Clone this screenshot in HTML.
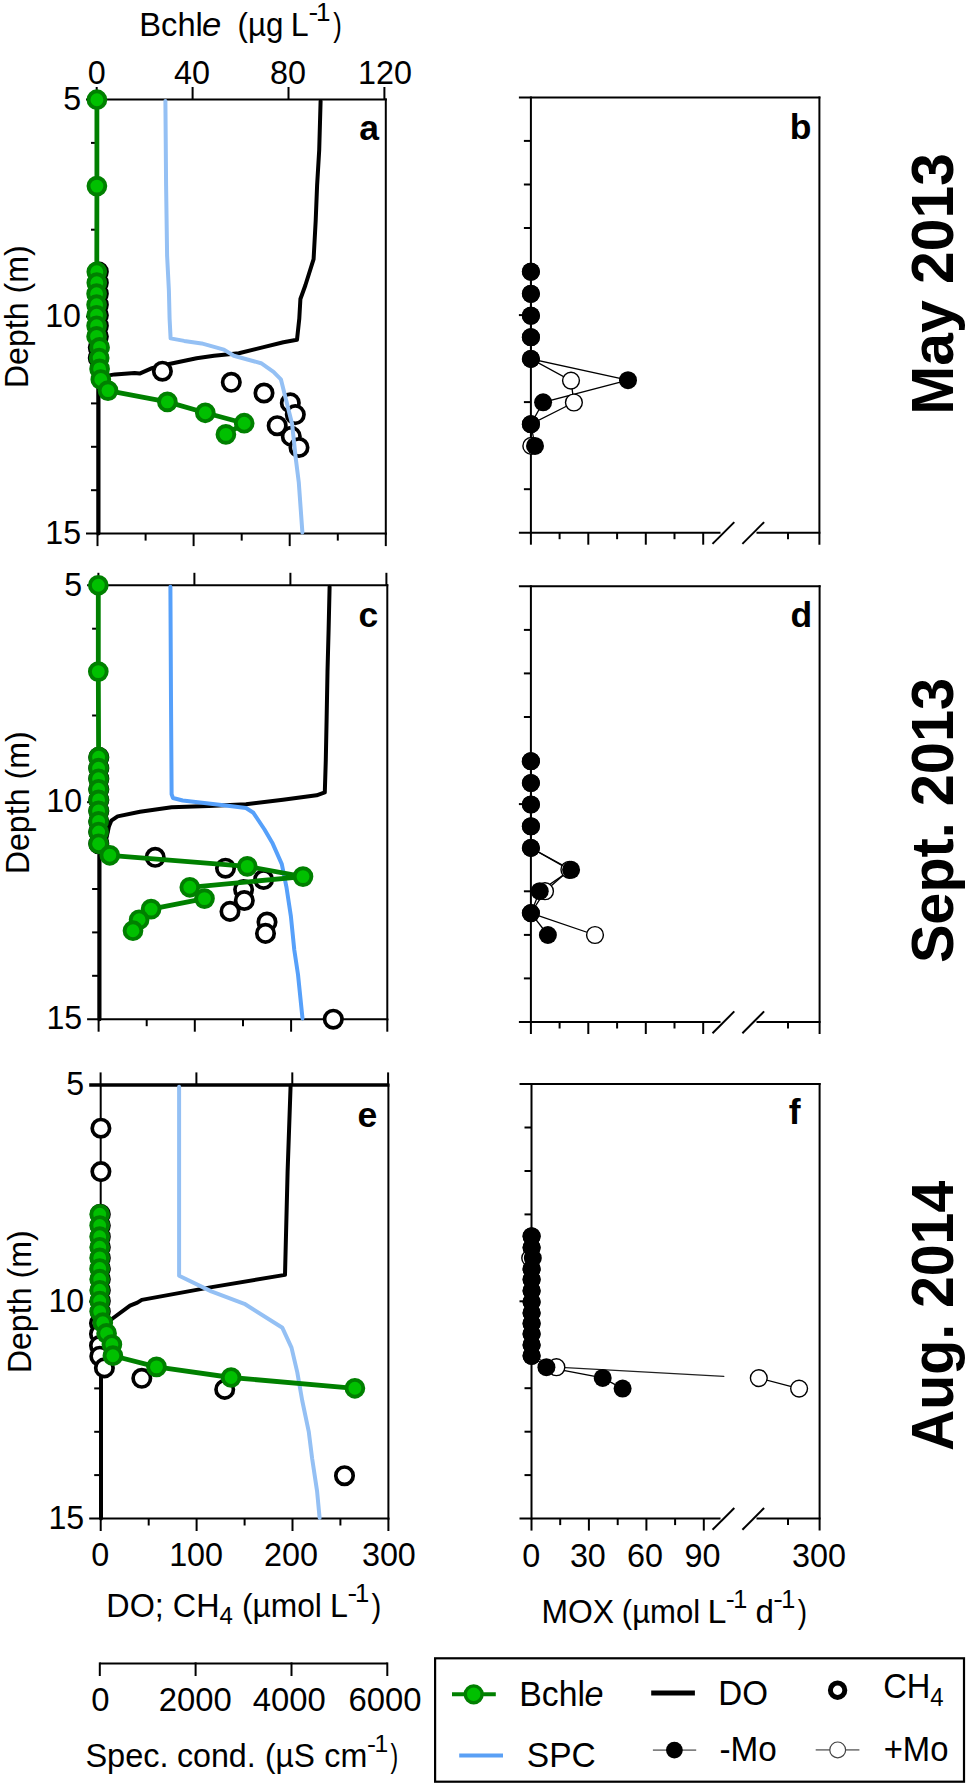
<!DOCTYPE html>
<html><head><meta charset="utf-8"><style>
html,body{margin:0;padding:0;background:#fff;}
svg{display:block;}
text{font-family:"Liberation Sans", sans-serif;fill:#000;}
</style></head><body>
<svg width="968" height="1787" viewBox="0 0 968 1787" font-family='"Liberation Sans", sans-serif'>
<rect width="968" height="1787" fill="#fff"/>
<line x1="86.0" y1="99.5" x2="386.8" y2="99.5" stroke="#000" stroke-width="2" stroke-linecap="butt"/>
<line x1="86.0" y1="533.6" x2="386.8" y2="533.6" stroke="#000" stroke-width="2" stroke-linecap="butt"/>
<line x1="97.5" y1="98.5" x2="97.5" y2="534.6" stroke="#000" stroke-width="2" stroke-linecap="butt"/>
<line x1="385.8" y1="98.5" x2="385.8" y2="534.6" stroke="#000" stroke-width="2" stroke-linecap="butt"/>
<line x1="91.0" y1="142.9" x2="97.5" y2="142.9" stroke="#000" stroke-width="2" stroke-linecap="butt"/>
<line x1="91.0" y1="186.3" x2="97.5" y2="186.3" stroke="#000" stroke-width="2" stroke-linecap="butt"/>
<line x1="91.0" y1="229.7" x2="97.5" y2="229.7" stroke="#000" stroke-width="2" stroke-linecap="butt"/>
<line x1="91.0" y1="273.1" x2="97.5" y2="273.1" stroke="#000" stroke-width="2" stroke-linecap="butt"/>
<line x1="86.0" y1="316.6" x2="97.5" y2="316.6" stroke="#000" stroke-width="2" stroke-linecap="butt"/>
<line x1="91.0" y1="360.0" x2="97.5" y2="360.0" stroke="#000" stroke-width="2" stroke-linecap="butt"/>
<line x1="91.0" y1="403.4" x2="97.5" y2="403.4" stroke="#000" stroke-width="2" stroke-linecap="butt"/>
<line x1="91.0" y1="446.8" x2="97.5" y2="446.8" stroke="#000" stroke-width="2" stroke-linecap="butt"/>
<line x1="91.0" y1="490.2" x2="97.5" y2="490.2" stroke="#000" stroke-width="2" stroke-linecap="butt"/>
<line x1="96.7" y1="87.0" x2="96.7" y2="99.5" stroke="#000" stroke-width="2" stroke-linecap="butt"/>
<line x1="192.6" y1="87.0" x2="192.6" y2="99.5" stroke="#000" stroke-width="2" stroke-linecap="butt"/>
<line x1="288.5" y1="87.0" x2="288.5" y2="99.5" stroke="#000" stroke-width="2" stroke-linecap="butt"/>
<line x1="384.4" y1="87.0" x2="384.4" y2="99.5" stroke="#000" stroke-width="2" stroke-linecap="butt"/>
<line x1="97.5" y1="533.6" x2="97.5" y2="546.1" stroke="#000" stroke-width="2" stroke-linecap="butt"/>
<line x1="145.6" y1="533.6" x2="145.6" y2="540.6" stroke="#000" stroke-width="2" stroke-linecap="butt"/>
<line x1="193.6" y1="533.6" x2="193.6" y2="546.1" stroke="#000" stroke-width="2" stroke-linecap="butt"/>
<line x1="241.7" y1="533.6" x2="241.7" y2="540.6" stroke="#000" stroke-width="2" stroke-linecap="butt"/>
<line x1="289.7" y1="533.6" x2="289.7" y2="546.1" stroke="#000" stroke-width="2" stroke-linecap="butt"/>
<line x1="337.8" y1="533.6" x2="337.8" y2="540.6" stroke="#000" stroke-width="2" stroke-linecap="butt"/>
<line x1="385.8" y1="533.6" x2="385.8" y2="546.1" stroke="#000" stroke-width="2" stroke-linecap="butt"/>
<line x1="87.1" y1="585.3" x2="388.3" y2="585.3" stroke="#000" stroke-width="2" stroke-linecap="butt"/>
<line x1="87.1" y1="1019.2" x2="388.3" y2="1019.2" stroke="#000" stroke-width="2" stroke-linecap="butt"/>
<line x1="98.6" y1="584.3" x2="98.6" y2="1020.2" stroke="#000" stroke-width="2" stroke-linecap="butt"/>
<line x1="387.3" y1="584.3" x2="387.3" y2="1020.2" stroke="#000" stroke-width="2" stroke-linecap="butt"/>
<line x1="92.1" y1="628.7" x2="98.6" y2="628.7" stroke="#000" stroke-width="2" stroke-linecap="butt"/>
<line x1="92.1" y1="672.1" x2="98.6" y2="672.1" stroke="#000" stroke-width="2" stroke-linecap="butt"/>
<line x1="92.1" y1="715.5" x2="98.6" y2="715.5" stroke="#000" stroke-width="2" stroke-linecap="butt"/>
<line x1="92.1" y1="758.9" x2="98.6" y2="758.9" stroke="#000" stroke-width="2" stroke-linecap="butt"/>
<line x1="87.1" y1="802.2" x2="98.6" y2="802.2" stroke="#000" stroke-width="2" stroke-linecap="butt"/>
<line x1="92.1" y1="845.6" x2="98.6" y2="845.6" stroke="#000" stroke-width="2" stroke-linecap="butt"/>
<line x1="92.1" y1="889.0" x2="98.6" y2="889.0" stroke="#000" stroke-width="2" stroke-linecap="butt"/>
<line x1="92.1" y1="932.4" x2="98.6" y2="932.4" stroke="#000" stroke-width="2" stroke-linecap="butt"/>
<line x1="92.1" y1="975.8" x2="98.6" y2="975.8" stroke="#000" stroke-width="2" stroke-linecap="butt"/>
<line x1="98.4" y1="572.8" x2="98.4" y2="585.3" stroke="#000" stroke-width="2" stroke-linecap="butt"/>
<line x1="194.4" y1="572.8" x2="194.4" y2="585.3" stroke="#000" stroke-width="2" stroke-linecap="butt"/>
<line x1="290.4" y1="572.8" x2="290.4" y2="585.3" stroke="#000" stroke-width="2" stroke-linecap="butt"/>
<line x1="386.4" y1="572.8" x2="386.4" y2="585.3" stroke="#000" stroke-width="2" stroke-linecap="butt"/>
<line x1="98.6" y1="1019.2" x2="98.6" y2="1031.7" stroke="#000" stroke-width="2" stroke-linecap="butt"/>
<line x1="146.7" y1="1019.2" x2="146.7" y2="1026.2" stroke="#000" stroke-width="2" stroke-linecap="butt"/>
<line x1="194.8" y1="1019.2" x2="194.8" y2="1031.7" stroke="#000" stroke-width="2" stroke-linecap="butt"/>
<line x1="243.0" y1="1019.2" x2="243.0" y2="1026.2" stroke="#000" stroke-width="2" stroke-linecap="butt"/>
<line x1="291.1" y1="1019.2" x2="291.1" y2="1031.7" stroke="#000" stroke-width="2" stroke-linecap="butt"/>
<line x1="339.2" y1="1019.2" x2="339.2" y2="1026.2" stroke="#000" stroke-width="2" stroke-linecap="butt"/>
<line x1="387.3" y1="1019.2" x2="387.3" y2="1031.7" stroke="#000" stroke-width="2" stroke-linecap="butt"/>
<line x1="89.2" y1="1084.9" x2="389.4" y2="1084.9" stroke="#000" stroke-width="3.5" stroke-linecap="butt"/>
<line x1="89.2" y1="1518.5" x2="389.4" y2="1518.5" stroke="#000" stroke-width="2" stroke-linecap="butt"/>
<line x1="100.7" y1="1083.9" x2="100.7" y2="1519.5" stroke="#000" stroke-width="2" stroke-linecap="butt"/>
<line x1="388.4" y1="1083.9" x2="388.4" y2="1519.5" stroke="#000" stroke-width="2" stroke-linecap="butt"/>
<line x1="94.2" y1="1128.3" x2="100.7" y2="1128.3" stroke="#000" stroke-width="2" stroke-linecap="butt"/>
<line x1="94.2" y1="1171.6" x2="100.7" y2="1171.6" stroke="#000" stroke-width="2" stroke-linecap="butt"/>
<line x1="94.2" y1="1215.0" x2="100.7" y2="1215.0" stroke="#000" stroke-width="2" stroke-linecap="butt"/>
<line x1="94.2" y1="1258.3" x2="100.7" y2="1258.3" stroke="#000" stroke-width="2" stroke-linecap="butt"/>
<line x1="89.2" y1="1301.7" x2="100.7" y2="1301.7" stroke="#000" stroke-width="2" stroke-linecap="butt"/>
<line x1="94.2" y1="1345.1" x2="100.7" y2="1345.1" stroke="#000" stroke-width="2" stroke-linecap="butt"/>
<line x1="94.2" y1="1388.4" x2="100.7" y2="1388.4" stroke="#000" stroke-width="2" stroke-linecap="butt"/>
<line x1="94.2" y1="1431.8" x2="100.7" y2="1431.8" stroke="#000" stroke-width="2" stroke-linecap="butt"/>
<line x1="94.2" y1="1475.1" x2="100.7" y2="1475.1" stroke="#000" stroke-width="2" stroke-linecap="butt"/>
<line x1="100.6" y1="1072.4" x2="100.6" y2="1084.9" stroke="#000" stroke-width="2" stroke-linecap="butt"/>
<line x1="196.4" y1="1072.4" x2="196.4" y2="1084.9" stroke="#000" stroke-width="2" stroke-linecap="butt"/>
<line x1="292.3" y1="1072.4" x2="292.3" y2="1084.9" stroke="#000" stroke-width="2" stroke-linecap="butt"/>
<line x1="388.1" y1="1072.4" x2="388.1" y2="1084.9" stroke="#000" stroke-width="2" stroke-linecap="butt"/>
<line x1="100.7" y1="1518.5" x2="100.7" y2="1531.0" stroke="#000" stroke-width="2" stroke-linecap="butt"/>
<line x1="148.7" y1="1518.5" x2="148.7" y2="1525.5" stroke="#000" stroke-width="2" stroke-linecap="butt"/>
<line x1="196.6" y1="1518.5" x2="196.6" y2="1531.0" stroke="#000" stroke-width="2" stroke-linecap="butt"/>
<line x1="244.6" y1="1518.5" x2="244.6" y2="1525.5" stroke="#000" stroke-width="2" stroke-linecap="butt"/>
<line x1="292.5" y1="1518.5" x2="292.5" y2="1531.0" stroke="#000" stroke-width="2" stroke-linecap="butt"/>
<line x1="340.4" y1="1518.5" x2="340.4" y2="1525.5" stroke="#000" stroke-width="2" stroke-linecap="butt"/>
<line x1="388.4" y1="1518.5" x2="388.4" y2="1531.0" stroke="#000" stroke-width="2" stroke-linecap="butt"/>
<line x1="518.9" y1="97.4" x2="820.4" y2="97.4" stroke="#000" stroke-width="2" stroke-linecap="butt"/>
<line x1="530.9" y1="96.4" x2="530.9" y2="533.7" stroke="#000" stroke-width="2" stroke-linecap="butt"/>
<line x1="819.4" y1="96.4" x2="819.4" y2="544.7" stroke="#000" stroke-width="2" stroke-linecap="butt"/>
<line x1="518.9" y1="532.7" x2="720.5" y2="532.7" stroke="#000" stroke-width="2" stroke-linecap="butt"/>
<line x1="756.5" y1="532.7" x2="820.4" y2="532.7" stroke="#000" stroke-width="2" stroke-linecap="butt"/>
<line x1="523.9" y1="140.9" x2="530.9" y2="140.9" stroke="#000" stroke-width="2" stroke-linecap="butt"/>
<line x1="523.9" y1="184.5" x2="530.9" y2="184.5" stroke="#000" stroke-width="2" stroke-linecap="butt"/>
<line x1="523.9" y1="228.0" x2="530.9" y2="228.0" stroke="#000" stroke-width="2" stroke-linecap="butt"/>
<line x1="523.9" y1="271.5" x2="530.9" y2="271.5" stroke="#000" stroke-width="2" stroke-linecap="butt"/>
<line x1="518.9" y1="315.1" x2="530.9" y2="315.1" stroke="#000" stroke-width="2" stroke-linecap="butt"/>
<line x1="523.9" y1="358.6" x2="530.9" y2="358.6" stroke="#000" stroke-width="2" stroke-linecap="butt"/>
<line x1="523.9" y1="402.1" x2="530.9" y2="402.1" stroke="#000" stroke-width="2" stroke-linecap="butt"/>
<line x1="523.9" y1="445.6" x2="530.9" y2="445.6" stroke="#000" stroke-width="2" stroke-linecap="butt"/>
<line x1="523.9" y1="489.2" x2="530.9" y2="489.2" stroke="#000" stroke-width="2" stroke-linecap="butt"/>
<line x1="530.9" y1="532.7" x2="530.9" y2="544.7" stroke="#000" stroke-width="2" stroke-linecap="butt"/>
<line x1="559.6" y1="532.7" x2="559.6" y2="539.2" stroke="#000" stroke-width="2" stroke-linecap="butt"/>
<line x1="588.3" y1="532.7" x2="588.3" y2="544.7" stroke="#000" stroke-width="2" stroke-linecap="butt"/>
<line x1="617.1" y1="532.7" x2="617.1" y2="539.2" stroke="#000" stroke-width="2" stroke-linecap="butt"/>
<line x1="645.8" y1="532.7" x2="645.8" y2="544.7" stroke="#000" stroke-width="2" stroke-linecap="butt"/>
<line x1="674.5" y1="532.7" x2="674.5" y2="539.2" stroke="#000" stroke-width="2" stroke-linecap="butt"/>
<line x1="703.2" y1="532.7" x2="703.2" y2="544.7" stroke="#000" stroke-width="2" stroke-linecap="butt"/>
<line x1="788.0" y1="532.7" x2="788.0" y2="539.2" stroke="#000" stroke-width="2" stroke-linecap="butt"/>
<line x1="712.5" y1="543.9" x2="734.3" y2="522.1" stroke="#000" stroke-width="2" stroke-linecap="butt"/>
<line x1="742.4" y1="543.9" x2="764.1" y2="522.1" stroke="#000" stroke-width="2" stroke-linecap="butt"/>
<line x1="518.9" y1="586.3" x2="820.6" y2="586.3" stroke="#000" stroke-width="2" stroke-linecap="butt"/>
<line x1="530.9" y1="585.3" x2="530.9" y2="1023.0" stroke="#000" stroke-width="2" stroke-linecap="butt"/>
<line x1="819.6" y1="585.3" x2="819.6" y2="1034.0" stroke="#000" stroke-width="2" stroke-linecap="butt"/>
<line x1="518.9" y1="1022.0" x2="720.5" y2="1022.0" stroke="#000" stroke-width="2" stroke-linecap="butt"/>
<line x1="756.5" y1="1022.0" x2="820.6" y2="1022.0" stroke="#000" stroke-width="2" stroke-linecap="butt"/>
<line x1="523.9" y1="629.9" x2="530.9" y2="629.9" stroke="#000" stroke-width="2" stroke-linecap="butt"/>
<line x1="523.9" y1="673.4" x2="530.9" y2="673.4" stroke="#000" stroke-width="2" stroke-linecap="butt"/>
<line x1="523.9" y1="717.0" x2="530.9" y2="717.0" stroke="#000" stroke-width="2" stroke-linecap="butt"/>
<line x1="523.9" y1="760.6" x2="530.9" y2="760.6" stroke="#000" stroke-width="2" stroke-linecap="butt"/>
<line x1="518.9" y1="804.1" x2="530.9" y2="804.1" stroke="#000" stroke-width="2" stroke-linecap="butt"/>
<line x1="523.9" y1="847.7" x2="530.9" y2="847.7" stroke="#000" stroke-width="2" stroke-linecap="butt"/>
<line x1="523.9" y1="891.3" x2="530.9" y2="891.3" stroke="#000" stroke-width="2" stroke-linecap="butt"/>
<line x1="523.9" y1="934.9" x2="530.9" y2="934.9" stroke="#000" stroke-width="2" stroke-linecap="butt"/>
<line x1="523.9" y1="978.4" x2="530.9" y2="978.4" stroke="#000" stroke-width="2" stroke-linecap="butt"/>
<line x1="530.9" y1="1022.0" x2="530.9" y2="1034.0" stroke="#000" stroke-width="2" stroke-linecap="butt"/>
<line x1="559.6" y1="1022.0" x2="559.6" y2="1028.5" stroke="#000" stroke-width="2" stroke-linecap="butt"/>
<line x1="588.3" y1="1022.0" x2="588.3" y2="1034.0" stroke="#000" stroke-width="2" stroke-linecap="butt"/>
<line x1="617.1" y1="1022.0" x2="617.1" y2="1028.5" stroke="#000" stroke-width="2" stroke-linecap="butt"/>
<line x1="645.8" y1="1022.0" x2="645.8" y2="1034.0" stroke="#000" stroke-width="2" stroke-linecap="butt"/>
<line x1="674.5" y1="1022.0" x2="674.5" y2="1028.5" stroke="#000" stroke-width="2" stroke-linecap="butt"/>
<line x1="703.2" y1="1022.0" x2="703.2" y2="1034.0" stroke="#000" stroke-width="2" stroke-linecap="butt"/>
<line x1="788.0" y1="1022.0" x2="788.0" y2="1028.5" stroke="#000" stroke-width="2" stroke-linecap="butt"/>
<line x1="712.5" y1="1033.2" x2="734.3" y2="1011.4" stroke="#000" stroke-width="2" stroke-linecap="butt"/>
<line x1="742.4" y1="1033.2" x2="764.1" y2="1011.4" stroke="#000" stroke-width="2" stroke-linecap="butt"/>
<line x1="519.5" y1="1084.1" x2="820.6" y2="1084.1" stroke="#000" stroke-width="2" stroke-linecap="butt"/>
<line x1="531.5" y1="1083.1" x2="531.5" y2="1519.6" stroke="#000" stroke-width="2" stroke-linecap="butt"/>
<line x1="819.6" y1="1083.1" x2="819.6" y2="1530.6" stroke="#000" stroke-width="2" stroke-linecap="butt"/>
<line x1="519.5" y1="1518.6" x2="720.5" y2="1518.6" stroke="#000" stroke-width="2" stroke-linecap="butt"/>
<line x1="756.5" y1="1518.6" x2="820.6" y2="1518.6" stroke="#000" stroke-width="2" stroke-linecap="butt"/>
<line x1="524.5" y1="1127.5" x2="531.5" y2="1127.5" stroke="#000" stroke-width="2" stroke-linecap="butt"/>
<line x1="524.5" y1="1171.0" x2="531.5" y2="1171.0" stroke="#000" stroke-width="2" stroke-linecap="butt"/>
<line x1="524.5" y1="1214.4" x2="531.5" y2="1214.4" stroke="#000" stroke-width="2" stroke-linecap="butt"/>
<line x1="524.5" y1="1257.9" x2="531.5" y2="1257.9" stroke="#000" stroke-width="2" stroke-linecap="butt"/>
<line x1="519.5" y1="1301.3" x2="531.5" y2="1301.3" stroke="#000" stroke-width="2" stroke-linecap="butt"/>
<line x1="524.5" y1="1344.8" x2="531.5" y2="1344.8" stroke="#000" stroke-width="2" stroke-linecap="butt"/>
<line x1="524.5" y1="1388.2" x2="531.5" y2="1388.2" stroke="#000" stroke-width="2" stroke-linecap="butt"/>
<line x1="524.5" y1="1431.7" x2="531.5" y2="1431.7" stroke="#000" stroke-width="2" stroke-linecap="butt"/>
<line x1="524.5" y1="1475.1" x2="531.5" y2="1475.1" stroke="#000" stroke-width="2" stroke-linecap="butt"/>
<line x1="531.5" y1="1518.6" x2="531.5" y2="1530.6" stroke="#000" stroke-width="2" stroke-linecap="butt"/>
<line x1="560.2" y1="1518.6" x2="560.2" y2="1525.1" stroke="#000" stroke-width="2" stroke-linecap="butt"/>
<line x1="588.9" y1="1518.6" x2="588.9" y2="1530.6" stroke="#000" stroke-width="2" stroke-linecap="butt"/>
<line x1="617.7" y1="1518.6" x2="617.7" y2="1525.1" stroke="#000" stroke-width="2" stroke-linecap="butt"/>
<line x1="646.4" y1="1518.6" x2="646.4" y2="1530.6" stroke="#000" stroke-width="2" stroke-linecap="butt"/>
<line x1="675.1" y1="1518.6" x2="675.1" y2="1525.1" stroke="#000" stroke-width="2" stroke-linecap="butt"/>
<line x1="703.8" y1="1518.6" x2="703.8" y2="1530.6" stroke="#000" stroke-width="2" stroke-linecap="butt"/>
<line x1="788.0" y1="1518.6" x2="788.0" y2="1525.1" stroke="#000" stroke-width="2" stroke-linecap="butt"/>
<line x1="712.5" y1="1529.8" x2="734.3" y2="1508.0" stroke="#000" stroke-width="2" stroke-linecap="butt"/>
<line x1="742.4" y1="1529.8" x2="764.1" y2="1508.0" stroke="#000" stroke-width="2" stroke-linecap="butt"/>
<polyline points="320.6,101.0 319.2,150.2 317.1,185.4 315.7,220.5 313.6,259.1 305.3,285.5 300.4,299.0 299.3,318.5 297.0,339.7 283.4,342.2 263.6,347.1 238.8,353.3 214.0,355.8 196.6,358.3 164.4,365.0 152.0,368.2 139.6,373.6 134.6,373.1 114.8,374.4 107.4,375.6 98.5,377.0 98.5,533.6" fill="none" stroke="#000" stroke-width="4" stroke-linejoin="round" stroke-linecap="round"/>
<circle cx="98.3" cy="271.8" r="8.7" fill="#fff" stroke="#000" stroke-width="3.7"/>
<circle cx="98.3" cy="282.7" r="8.7" fill="#fff" stroke="#000" stroke-width="3.7"/>
<circle cx="98.3" cy="293.7" r="8.7" fill="#fff" stroke="#000" stroke-width="3.7"/>
<circle cx="98.3" cy="304.7" r="8.7" fill="#fff" stroke="#000" stroke-width="3.7"/>
<circle cx="98.3" cy="315.3" r="8.7" fill="#fff" stroke="#000" stroke-width="3.7"/>
<circle cx="98.3" cy="325.8" r="8.7" fill="#fff" stroke="#000" stroke-width="3.7"/>
<circle cx="98.3" cy="336.4" r="8.7" fill="#fff" stroke="#000" stroke-width="3.7"/>
<circle cx="98.3" cy="347.4" r="8.7" fill="#fff" stroke="#000" stroke-width="3.7"/>
<circle cx="98.3" cy="358.0" r="8.7" fill="#fff" stroke="#000" stroke-width="3.7"/>
<circle cx="162.4" cy="371.2" r="8.7" fill="#fff" stroke="#000" stroke-width="3.7"/>
<circle cx="231.3" cy="382.3" r="8.7" fill="#fff" stroke="#000" stroke-width="3.7"/>
<circle cx="264.0" cy="393.0" r="8.7" fill="#fff" stroke="#000" stroke-width="3.7"/>
<circle cx="290.3" cy="402.9" r="8.7" fill="#fff" stroke="#000" stroke-width="3.7"/>
<circle cx="295.3" cy="414.6" r="8.7" fill="#fff" stroke="#000" stroke-width="3.7"/>
<circle cx="277.2" cy="425.7" r="8.7" fill="#fff" stroke="#000" stroke-width="3.7"/>
<circle cx="291.3" cy="436.4" r="8.7" fill="#fff" stroke="#000" stroke-width="3.7"/>
<circle cx="299.0" cy="447.5" r="8.7" fill="#fff" stroke="#000" stroke-width="3.7"/>
<polyline points="165.4,101.0 166.1,185.4 167.1,255.6 168.9,290.7 169.6,318.8 170.6,338.4 184.2,340.9 201.6,343.4 223.9,349.6 233.8,355.8 261.1,363.2 273.5,371.9 280.9,379.3 285.9,399.2 292.1,424.0 295.8,458.7 298.8,482.6 302.4,532.5" fill="none" stroke="#94c0f4" stroke-width="4" stroke-linejoin="round" stroke-linecap="round"/>
<polyline points="96.9,99.7 96.9,186.1 96.8,271.8 96.8,282.7 96.6,293.7 96.6,304.7 96.6,315.3 96.6,325.8 96.6,336.4 99.6,347.4 99.2,358.0 99.6,368.9 100.8,379.5 108.0,390.6 167.4,401.9 205.3,412.8 244.2,423.2 225.9,434.4" fill="none" stroke="#008000" stroke-width="4.8" stroke-linejoin="round" stroke-linecap="round"/>
<circle cx="96.9" cy="99.7" r="8.4" fill="#00c000" stroke="#008000" stroke-width="3.9"/>
<circle cx="96.9" cy="186.1" r="8.4" fill="#00c000" stroke="#008000" stroke-width="3.9"/>
<circle cx="96.8" cy="271.8" r="8.4" fill="#00c000" stroke="#008000" stroke-width="3.9"/>
<circle cx="96.8" cy="282.7" r="8.4" fill="#00c000" stroke="#008000" stroke-width="3.9"/>
<circle cx="96.6" cy="293.7" r="8.4" fill="#00c000" stroke="#008000" stroke-width="3.9"/>
<circle cx="96.6" cy="304.7" r="8.4" fill="#00c000" stroke="#008000" stroke-width="3.9"/>
<circle cx="96.6" cy="315.3" r="8.4" fill="#00c000" stroke="#008000" stroke-width="3.9"/>
<circle cx="96.6" cy="325.8" r="8.4" fill="#00c000" stroke="#008000" stroke-width="3.9"/>
<circle cx="96.6" cy="336.4" r="8.4" fill="#00c000" stroke="#008000" stroke-width="3.9"/>
<circle cx="99.6" cy="347.4" r="8.4" fill="#00c000" stroke="#008000" stroke-width="3.9"/>
<circle cx="99.2" cy="358.0" r="8.4" fill="#00c000" stroke="#008000" stroke-width="3.9"/>
<circle cx="99.6" cy="368.9" r="8.4" fill="#00c000" stroke="#008000" stroke-width="3.9"/>
<circle cx="100.8" cy="379.5" r="8.4" fill="#00c000" stroke="#008000" stroke-width="3.9"/>
<circle cx="108.0" cy="390.6" r="8.4" fill="#00c000" stroke="#008000" stroke-width="3.9"/>
<circle cx="167.4" cy="401.9" r="8.4" fill="#00c000" stroke="#008000" stroke-width="3.9"/>
<circle cx="205.3" cy="412.8" r="8.4" fill="#00c000" stroke="#008000" stroke-width="3.9"/>
<circle cx="244.2" cy="423.2" r="8.4" fill="#00c000" stroke="#008000" stroke-width="3.9"/>
<circle cx="225.9" cy="434.4" r="8.4" fill="#00c000" stroke="#008000" stroke-width="3.9"/>
<polyline points="329.6,586.8 328.6,630.0 327.5,671.6 326.6,720.0 325.8,760.0 324.8,792.4 316.6,795.3 283.0,799.8 246.0,804.2 208.8,806.0 171.6,807.2 140.0,811.7 117.6,816.4 111.3,820.7 109.0,826.1 106.0,840.0 99.5,855.0 99.5,1019.2" fill="none" stroke="#000" stroke-width="4" stroke-linejoin="round" stroke-linecap="round"/>
<circle cx="98.8" cy="757.2" r="8.7" fill="#fff" stroke="#000" stroke-width="3.7"/>
<circle cx="98.8" cy="768.2" r="8.7" fill="#fff" stroke="#000" stroke-width="3.7"/>
<circle cx="98.8" cy="778.8" r="8.7" fill="#fff" stroke="#000" stroke-width="3.7"/>
<circle cx="98.8" cy="789.3" r="8.7" fill="#fff" stroke="#000" stroke-width="3.7"/>
<circle cx="98.8" cy="799.9" r="8.7" fill="#fff" stroke="#000" stroke-width="3.7"/>
<circle cx="98.8" cy="810.9" r="8.7" fill="#fff" stroke="#000" stroke-width="3.7"/>
<circle cx="98.8" cy="821.4" r="8.7" fill="#fff" stroke="#000" stroke-width="3.7"/>
<circle cx="98.8" cy="832.0" r="8.7" fill="#fff" stroke="#000" stroke-width="3.7"/>
<circle cx="98.8" cy="843.8" r="8.7" fill="#fff" stroke="#000" stroke-width="3.7"/>
<circle cx="155.2" cy="857.3" r="8.7" fill="#fff" stroke="#000" stroke-width="3.7"/>
<circle cx="225.5" cy="868.2" r="8.7" fill="#fff" stroke="#000" stroke-width="3.7"/>
<circle cx="263.6" cy="879.5" r="8.7" fill="#fff" stroke="#000" stroke-width="3.7"/>
<circle cx="243.6" cy="889.5" r="8.7" fill="#fff" stroke="#000" stroke-width="3.7"/>
<circle cx="244.3" cy="900.5" r="8.7" fill="#fff" stroke="#000" stroke-width="3.7"/>
<circle cx="230.0" cy="911.4" r="8.7" fill="#fff" stroke="#000" stroke-width="3.7"/>
<circle cx="267.0" cy="922.0" r="8.7" fill="#fff" stroke="#000" stroke-width="3.7"/>
<circle cx="265.5" cy="933.4" r="8.7" fill="#fff" stroke="#000" stroke-width="3.7"/>
<circle cx="333.3" cy="1019.2" r="8.7" fill="#fff" stroke="#000" stroke-width="3.7"/>
<polyline points="170.4,586.8 171.0,700.0 171.6,794.3 173.0,798.0 182.7,800.5 223.6,805.3 246.0,808.0 253.4,812.8 264.5,829.5 272.7,843.6 281.8,864.1 286.4,886.8 290.9,916.4 294.3,950.0 298.0,974.5 302.5,1018.4" fill="none" stroke="#56a0fa" stroke-width="4" stroke-linejoin="round" stroke-linecap="round"/>
<polyline points="98.3,585.3 98.3,671.6 98.6,757.2 98.6,768.2 98.6,778.8 98.6,789.3 98.6,799.9 98.6,810.9 98.6,821.4 98.6,832.0 98.6,843.8 109.8,855.3 247.3,866.4 303.0,876.6 189.8,887.3 204.5,898.6 151.1,909.1 139.1,919.8 133.0,930.7" fill="none" stroke="#008000" stroke-width="4.8" stroke-linejoin="round" stroke-linecap="round"/>
<circle cx="98.3" cy="585.3" r="8.4" fill="#00c000" stroke="#008000" stroke-width="3.9"/>
<circle cx="98.3" cy="671.6" r="8.4" fill="#00c000" stroke="#008000" stroke-width="3.9"/>
<circle cx="98.6" cy="757.2" r="8.4" fill="#00c000" stroke="#008000" stroke-width="3.9"/>
<circle cx="98.6" cy="768.2" r="8.4" fill="#00c000" stroke="#008000" stroke-width="3.9"/>
<circle cx="98.6" cy="778.8" r="8.4" fill="#00c000" stroke="#008000" stroke-width="3.9"/>
<circle cx="98.6" cy="789.3" r="8.4" fill="#00c000" stroke="#008000" stroke-width="3.9"/>
<circle cx="98.6" cy="799.9" r="8.4" fill="#00c000" stroke="#008000" stroke-width="3.9"/>
<circle cx="98.6" cy="810.9" r="8.4" fill="#00c000" stroke="#008000" stroke-width="3.9"/>
<circle cx="98.6" cy="821.4" r="8.4" fill="#00c000" stroke="#008000" stroke-width="3.9"/>
<circle cx="98.6" cy="832.0" r="8.4" fill="#00c000" stroke="#008000" stroke-width="3.9"/>
<circle cx="98.6" cy="843.8" r="8.4" fill="#00c000" stroke="#008000" stroke-width="3.9"/>
<circle cx="109.8" cy="855.3" r="8.4" fill="#00c000" stroke="#008000" stroke-width="3.9"/>
<circle cx="247.3" cy="866.4" r="8.4" fill="#00c000" stroke="#008000" stroke-width="3.9"/>
<circle cx="303.0" cy="876.6" r="8.4" fill="#00c000" stroke="#008000" stroke-width="3.9"/>
<circle cx="189.8" cy="887.3" r="8.4" fill="#00c000" stroke="#008000" stroke-width="3.9"/>
<circle cx="204.5" cy="898.6" r="8.4" fill="#00c000" stroke="#008000" stroke-width="3.9"/>
<circle cx="151.1" cy="909.1" r="8.4" fill="#00c000" stroke="#008000" stroke-width="3.9"/>
<circle cx="139.1" cy="919.8" r="8.4" fill="#00c000" stroke="#008000" stroke-width="3.9"/>
<circle cx="133.0" cy="930.7" r="8.4" fill="#00c000" stroke="#008000" stroke-width="3.9"/>
<polyline points="290.6,1085.5 287.6,1171.6 285.0,1274.9 208.8,1287.6 141.8,1299.9 137.4,1302.6 130.0,1305.7 111.9,1319.0 101.0,1330.0 101.0,1518.5" fill="none" stroke="#000" stroke-width="4" stroke-linejoin="round" stroke-linecap="round"/>
<circle cx="100.9" cy="1128.2" r="8.7" fill="#fff" stroke="#000" stroke-width="3.7"/>
<circle cx="100.9" cy="1171.6" r="8.7" fill="#fff" stroke="#000" stroke-width="3.7"/>
<circle cx="100.3" cy="1214.3" r="8.7" fill="#fff" stroke="#000" stroke-width="3.7"/>
<circle cx="100.3" cy="1225.5" r="8.7" fill="#fff" stroke="#000" stroke-width="3.7"/>
<circle cx="100.3" cy="1236.7" r="8.7" fill="#fff" stroke="#000" stroke-width="3.7"/>
<circle cx="100.3" cy="1247.3" r="8.7" fill="#fff" stroke="#000" stroke-width="3.7"/>
<circle cx="100.3" cy="1257.9" r="8.7" fill="#fff" stroke="#000" stroke-width="3.7"/>
<circle cx="100.3" cy="1268.5" r="8.7" fill="#fff" stroke="#000" stroke-width="3.7"/>
<circle cx="100.3" cy="1279.2" r="8.7" fill="#fff" stroke="#000" stroke-width="3.7"/>
<circle cx="100.3" cy="1290.3" r="8.7" fill="#fff" stroke="#000" stroke-width="3.7"/>
<circle cx="100.3" cy="1301.0" r="8.7" fill="#fff" stroke="#000" stroke-width="3.7"/>
<circle cx="100.3" cy="1311.6" r="8.7" fill="#fff" stroke="#000" stroke-width="3.7"/>
<circle cx="99.5" cy="1323.3" r="8.7" fill="#fff" stroke="#000" stroke-width="3.7"/>
<circle cx="99.5" cy="1334.0" r="8.7" fill="#fff" stroke="#000" stroke-width="3.7"/>
<circle cx="99.5" cy="1345.6" r="8.7" fill="#fff" stroke="#000" stroke-width="3.7"/>
<circle cx="99.8" cy="1356.2" r="8.7" fill="#fff" stroke="#000" stroke-width="3.7"/>
<circle cx="104.4" cy="1367.9" r="8.7" fill="#fff" stroke="#000" stroke-width="3.7"/>
<circle cx="141.8" cy="1378.3" r="8.7" fill="#fff" stroke="#000" stroke-width="3.7"/>
<circle cx="224.7" cy="1389.4" r="8.7" fill="#fff" stroke="#000" stroke-width="3.7"/>
<circle cx="344.5" cy="1475.7" r="8.7" fill="#fff" stroke="#000" stroke-width="3.7"/>
<polyline points="179.1,1086.8 179.1,1275.7 211.3,1291.4 244.4,1303.8 282.4,1327.8 291.5,1347.6 297.3,1372.4 302.2,1400.5 308.8,1431.9 312.1,1458.3 317.1,1491.4 319.6,1517.9" fill="none" stroke="#94c0f4" stroke-width="4" stroke-linejoin="round" stroke-linecap="round"/>
<polyline points="99.7,1214.3 99.7,1225.5 99.7,1236.7 99.7,1247.3 99.7,1257.9 99.7,1268.5 99.7,1279.2 99.7,1290.3 99.7,1301.0 99.7,1311.6 102.8,1322.7 106.6,1333.4 111.9,1344.5 112.9,1355.7 156.5,1366.9 231.1,1377.5 354.9,1388.3" fill="none" stroke="#008000" stroke-width="4.8" stroke-linejoin="round" stroke-linecap="round"/>
<circle cx="99.7" cy="1214.3" r="8.4" fill="#00c000" stroke="#008000" stroke-width="3.9"/>
<circle cx="99.7" cy="1225.5" r="8.4" fill="#00c000" stroke="#008000" stroke-width="3.9"/>
<circle cx="99.7" cy="1236.7" r="8.4" fill="#00c000" stroke="#008000" stroke-width="3.9"/>
<circle cx="99.7" cy="1247.3" r="8.4" fill="#00c000" stroke="#008000" stroke-width="3.9"/>
<circle cx="99.7" cy="1257.9" r="8.4" fill="#00c000" stroke="#008000" stroke-width="3.9"/>
<circle cx="99.7" cy="1268.5" r="8.4" fill="#00c000" stroke="#008000" stroke-width="3.9"/>
<circle cx="99.7" cy="1279.2" r="8.4" fill="#00c000" stroke="#008000" stroke-width="3.9"/>
<circle cx="99.7" cy="1290.3" r="8.4" fill="#00c000" stroke="#008000" stroke-width="3.9"/>
<circle cx="99.7" cy="1301.0" r="8.4" fill="#00c000" stroke="#008000" stroke-width="3.9"/>
<circle cx="99.7" cy="1311.6" r="8.4" fill="#00c000" stroke="#008000" stroke-width="3.9"/>
<circle cx="102.8" cy="1322.7" r="8.4" fill="#00c000" stroke="#008000" stroke-width="3.9"/>
<circle cx="106.6" cy="1333.4" r="8.4" fill="#00c000" stroke="#008000" stroke-width="3.9"/>
<circle cx="111.9" cy="1344.5" r="8.4" fill="#00c000" stroke="#008000" stroke-width="3.9"/>
<circle cx="112.9" cy="1355.7" r="8.4" fill="#00c000" stroke="#008000" stroke-width="3.9"/>
<circle cx="156.5" cy="1366.9" r="8.4" fill="#00c000" stroke="#008000" stroke-width="3.9"/>
<circle cx="231.1" cy="1377.5" r="8.4" fill="#00c000" stroke="#008000" stroke-width="3.9"/>
<circle cx="354.9" cy="1388.3" r="8.4" fill="#00c000" stroke="#008000" stroke-width="3.9"/>
<polyline points="530.9,271.7 530.9,293.8 530.9,315.7 530.9,337.2 530.9,358.9 571.0,380.6 573.9,402.5 530.9,424.2 531.3,445.9" fill="none" stroke="#000" stroke-width="1.3" stroke-linejoin="miter" stroke-linecap="round"/>
<polyline points="530.9,271.7 530.9,293.8 530.9,315.7 530.9,337.2 530.9,358.9 628.0,380.2 543.1,402.3 530.9,424.2 535.0,445.9" fill="none" stroke="#000" stroke-width="1.3" stroke-linejoin="miter" stroke-linecap="round"/>
<circle cx="530.9" cy="271.7" r="8.4" fill="#fff" stroke="#000" stroke-width="1.4"/>
<circle cx="530.9" cy="293.8" r="8.4" fill="#fff" stroke="#000" stroke-width="1.4"/>
<circle cx="530.9" cy="315.7" r="8.4" fill="#fff" stroke="#000" stroke-width="1.4"/>
<circle cx="530.9" cy="337.2" r="8.4" fill="#fff" stroke="#000" stroke-width="1.4"/>
<circle cx="530.9" cy="358.9" r="8.4" fill="#fff" stroke="#000" stroke-width="1.4"/>
<circle cx="571.0" cy="380.6" r="8.4" fill="#fff" stroke="#000" stroke-width="1.4"/>
<circle cx="573.9" cy="402.5" r="8.4" fill="#fff" stroke="#000" stroke-width="1.4"/>
<circle cx="530.9" cy="424.2" r="8.4" fill="#fff" stroke="#000" stroke-width="1.4"/>
<circle cx="531.3" cy="445.9" r="8.4" fill="#fff" stroke="#000" stroke-width="1.4"/>
<circle cx="530.9" cy="271.7" r="9" fill="#000" stroke="none" stroke-width="0"/>
<circle cx="530.9" cy="293.8" r="9" fill="#000" stroke="none" stroke-width="0"/>
<circle cx="530.9" cy="315.7" r="9" fill="#000" stroke="none" stroke-width="0"/>
<circle cx="530.9" cy="337.2" r="9" fill="#000" stroke="none" stroke-width="0"/>
<circle cx="530.9" cy="358.9" r="9" fill="#000" stroke="none" stroke-width="0"/>
<circle cx="628.0" cy="380.2" r="9" fill="#000" stroke="none" stroke-width="0"/>
<circle cx="543.1" cy="402.3" r="9" fill="#000" stroke="none" stroke-width="0"/>
<circle cx="530.9" cy="424.2" r="9" fill="#000" stroke="none" stroke-width="0"/>
<circle cx="535.0" cy="445.9" r="9" fill="#000" stroke="none" stroke-width="0"/>
<polyline points="530.9,761.2 530.9,783.0 530.9,804.5 530.9,826.3 530.9,847.9 569.4,869.8 545.0,891.2 530.9,913.1 595.0,935.0" fill="none" stroke="#000" stroke-width="1.3" stroke-linejoin="miter" stroke-linecap="round"/>
<polyline points="530.9,761.2 530.9,783.0 530.9,804.5 530.9,826.3 530.9,847.9 571.1,869.8 539.7,891.2 530.9,913.1 547.9,935.0" fill="none" stroke="#000" stroke-width="1.3" stroke-linejoin="miter" stroke-linecap="round"/>
<circle cx="530.9" cy="761.2" r="8.4" fill="#fff" stroke="#000" stroke-width="1.4"/>
<circle cx="530.9" cy="783.0" r="8.4" fill="#fff" stroke="#000" stroke-width="1.4"/>
<circle cx="530.9" cy="804.5" r="8.4" fill="#fff" stroke="#000" stroke-width="1.4"/>
<circle cx="530.9" cy="826.3" r="8.4" fill="#fff" stroke="#000" stroke-width="1.4"/>
<circle cx="530.9" cy="847.9" r="8.4" fill="#fff" stroke="#000" stroke-width="1.4"/>
<circle cx="569.4" cy="869.8" r="8.4" fill="#fff" stroke="#000" stroke-width="1.4"/>
<circle cx="545.0" cy="891.2" r="8.4" fill="#fff" stroke="#000" stroke-width="1.4"/>
<circle cx="530.9" cy="913.1" r="8.4" fill="#fff" stroke="#000" stroke-width="1.4"/>
<circle cx="595.0" cy="935.0" r="8.4" fill="#fff" stroke="#000" stroke-width="1.4"/>
<circle cx="530.9" cy="761.2" r="9" fill="#000" stroke="none" stroke-width="0"/>
<circle cx="530.9" cy="783.0" r="9" fill="#000" stroke="none" stroke-width="0"/>
<circle cx="530.9" cy="804.5" r="9" fill="#000" stroke="none" stroke-width="0"/>
<circle cx="530.9" cy="826.3" r="9" fill="#000" stroke="none" stroke-width="0"/>
<circle cx="530.9" cy="847.9" r="9" fill="#000" stroke="none" stroke-width="0"/>
<circle cx="571.1" cy="869.8" r="9" fill="#000" stroke="none" stroke-width="0"/>
<circle cx="539.7" cy="891.2" r="9" fill="#000" stroke="none" stroke-width="0"/>
<circle cx="530.9" cy="913.1" r="9" fill="#000" stroke="none" stroke-width="0"/>
<circle cx="547.9" cy="935.0" r="9" fill="#000" stroke="none" stroke-width="0"/>
<polyline points="531.6,1355.8 556.4,1367.2 723.9,1376.3" fill="none" stroke="#222" stroke-width="1.2" stroke-linejoin="miter" stroke-linecap="round"/>
<polyline points="758.8,1378.1 799.1,1388.6" fill="none" stroke="#000" stroke-width="1.3" stroke-linejoin="miter" stroke-linecap="round"/>
<polyline points="531.6,1236.3 531.6,1247.6 531.6,1258.1 531.6,1269.0 531.6,1279.5 531.6,1290.8 531.6,1302.0 531.6,1312.9 531.6,1323.5 531.6,1334.0 531.6,1344.9 531.6,1355.8 546.4,1367.2 602.7,1377.9 622.6,1388.6" fill="none" stroke="#000" stroke-width="1.3" stroke-linejoin="miter" stroke-linecap="round"/>
<circle cx="531.6" cy="1236.3" r="8.4" fill="#fff" stroke="#000" stroke-width="1.4"/>
<circle cx="531.6" cy="1247.6" r="8.4" fill="#fff" stroke="#000" stroke-width="1.4"/>
<circle cx="530.2" cy="1258.1" r="8.4" fill="#fff" stroke="#000" stroke-width="1.4"/>
<circle cx="531.6" cy="1269.0" r="8.4" fill="#fff" stroke="#000" stroke-width="1.4"/>
<circle cx="531.6" cy="1279.5" r="8.4" fill="#fff" stroke="#000" stroke-width="1.4"/>
<circle cx="531.6" cy="1290.8" r="8.4" fill="#fff" stroke="#000" stroke-width="1.4"/>
<circle cx="531.6" cy="1302.0" r="8.4" fill="#fff" stroke="#000" stroke-width="1.4"/>
<circle cx="531.6" cy="1312.9" r="8.4" fill="#fff" stroke="#000" stroke-width="1.4"/>
<circle cx="531.6" cy="1323.5" r="8.4" fill="#fff" stroke="#000" stroke-width="1.4"/>
<circle cx="531.6" cy="1334.0" r="8.4" fill="#fff" stroke="#000" stroke-width="1.4"/>
<circle cx="531.6" cy="1344.9" r="8.4" fill="#fff" stroke="#000" stroke-width="1.4"/>
<circle cx="531.6" cy="1355.8" r="8.4" fill="#fff" stroke="#000" stroke-width="1.4"/>
<circle cx="556.4" cy="1367.2" r="8.4" fill="#fff" stroke="#000" stroke-width="1.4"/>
<circle cx="758.8" cy="1378.1" r="8.4" fill="#fff" stroke="#000" stroke-width="1.4"/>
<circle cx="799.1" cy="1388.6" r="8.4" fill="#fff" stroke="#000" stroke-width="1.4"/>
<circle cx="531.6" cy="1236.3" r="9" fill="#000" stroke="none" stroke-width="0"/>
<circle cx="531.6" cy="1247.6" r="9" fill="#000" stroke="none" stroke-width="0"/>
<circle cx="532.8" cy="1258.1" r="9" fill="#000" stroke="none" stroke-width="0"/>
<circle cx="531.6" cy="1269.0" r="9" fill="#000" stroke="none" stroke-width="0"/>
<circle cx="531.6" cy="1279.5" r="9" fill="#000" stroke="none" stroke-width="0"/>
<circle cx="531.6" cy="1290.8" r="9" fill="#000" stroke="none" stroke-width="0"/>
<circle cx="531.6" cy="1302.0" r="9" fill="#000" stroke="none" stroke-width="0"/>
<circle cx="531.6" cy="1312.9" r="9" fill="#000" stroke="none" stroke-width="0"/>
<circle cx="531.6" cy="1323.5" r="9" fill="#000" stroke="none" stroke-width="0"/>
<circle cx="531.6" cy="1334.0" r="9" fill="#000" stroke="none" stroke-width="0"/>
<circle cx="531.6" cy="1344.9" r="9" fill="#000" stroke="none" stroke-width="0"/>
<circle cx="531.6" cy="1355.8" r="9" fill="#000" stroke="none" stroke-width="0"/>
<circle cx="546.4" cy="1367.2" r="9" fill="#000" stroke="none" stroke-width="0"/>
<circle cx="602.7" cy="1377.9" r="9" fill="#000" stroke="none" stroke-width="0"/>
<circle cx="622.6" cy="1388.6" r="9" fill="#000" stroke="none" stroke-width="0"/>
<rect x="435.1" y="1658.3" width="528.9" height="123.4" fill="none" stroke="#000" stroke-width="2.2"/>
<line x1="452.0" y1="1694.3" x2="495.8" y2="1694.3" stroke="#008000" stroke-width="4.1" stroke-linecap="butt"/>
<circle cx="473.7" cy="1694.3" r="8.4" fill="#00c000" stroke="#008000" stroke-width="3.4"/>
<line x1="459.2" y1="1755.5" x2="503.0" y2="1755.5" stroke="#5aa0f5" stroke-width="4.1" stroke-linecap="butt"/>
<line x1="651.2" y1="1693.0" x2="694.9" y2="1693.0" stroke="#000" stroke-width="5" stroke-linecap="butt"/>
<circle cx="837.6" cy="1690.2" r="7.2" fill="#fff" stroke="#000" stroke-width="5"/>
<line x1="652.9" y1="1750.1" x2="696.2" y2="1750.1" stroke="#808080" stroke-width="1.7" stroke-linecap="butt"/>
<circle cx="674.4" cy="1750.1" r="8.4" fill="#000" stroke="none" stroke-width="0"/>
<line x1="815.7" y1="1749.9" x2="859.4" y2="1749.9" stroke="#808080" stroke-width="1.7" stroke-linecap="butt"/>
<circle cx="837.7" cy="1749.9" r="7.9" fill="#fff" stroke="#444" stroke-width="1.2"/>
<line x1="99.8" y1="1663.4" x2="387.3" y2="1663.4" stroke="#000" stroke-width="2" stroke-linecap="butt"/>
<line x1="99.8" y1="1662.4" x2="99.8" y2="1676.0" stroke="#000" stroke-width="2" stroke-linecap="butt"/>
<line x1="195.6" y1="1662.4" x2="195.6" y2="1676.0" stroke="#000" stroke-width="2" stroke-linecap="butt"/>
<line x1="291.5" y1="1662.4" x2="291.5" y2="1676.0" stroke="#000" stroke-width="2" stroke-linecap="butt"/>
<line x1="387.3" y1="1662.4" x2="387.3" y2="1676.0" stroke="#000" stroke-width="2" stroke-linecap="butt"/>
<text transform="translate(63.17,109.70) scale(0.9600,1)" font-size="33.5">5</text>
<text transform="translate(45.19,326.75) scale(0.9600,1)" font-size="33.5">10</text>
<text transform="translate(45.29,543.80) scale(0.9600,1)" font-size="33.5">15</text>
<text transform="translate(64.27,595.50) scale(0.9600,1)" font-size="33.5">5</text>
<text transform="translate(46.29,812.45) scale(0.9600,1)" font-size="33.5">10</text>
<text transform="translate(46.39,1029.40) scale(0.9600,1)" font-size="33.5">15</text>
<text transform="translate(66.37,1095.10) scale(0.9600,1)" font-size="33.5">5</text>
<text transform="translate(48.39,1311.90) scale(0.9600,1)" font-size="33.5">10</text>
<text transform="translate(48.49,1528.70) scale(0.9600,1)" font-size="33.5">15</text>
<text transform="translate(87.66,84.10) scale(0.9650,1)" font-size="33.5">0</text>
<text transform="translate(173.93,84.10) scale(0.9650,1)" font-size="33.5">40</text>
<text transform="translate(270.06,84.10) scale(0.9650,1)" font-size="33.5">80</text>
<text transform="translate(358.04,84.10) scale(0.9650,1)" font-size="33.5">120</text>
<text transform="translate(91.16,1566.40) scale(0.9650,1)" font-size="33.5">0</text>
<text transform="translate(169.14,1566.40) scale(0.9650,1)" font-size="33.5">100</text>
<text transform="translate(264.01,1566.40) scale(0.9650,1)" font-size="33.5">200</text>
<text transform="translate(361.91,1566.40) scale(0.9650,1)" font-size="33.5">300</text>
<text transform="translate(522.26,1566.80) scale(0.9650,1)" font-size="33.5">0</text>
<text transform="translate(569.89,1566.80) scale(0.9650,1)" font-size="33.5">30</text>
<text transform="translate(627.03,1566.80) scale(0.9650,1)" font-size="33.5">60</text>
<text transform="translate(684.45,1566.80) scale(0.9650,1)" font-size="33.5">90</text>
<text transform="translate(791.96,1566.80) scale(0.9650,1)" font-size="33.5">300</text>
<text transform="translate(91.22,1710.80) scale(0.9800,1)" font-size="33.5">0</text>
<text transform="translate(158.66,1710.80) scale(0.9800,1)" font-size="33.5">2000</text>
<text transform="translate(252.76,1710.80) scale(0.9800,1)" font-size="33.5">4000</text>
<text transform="translate(348.55,1710.80) scale(0.9800,1)" font-size="33.5">6000</text>
<text transform="translate(359.24,140.00) scale(1.0000,1)" font-size="35.5" font-weight="bold">a</text>
<text transform="translate(789.86,139.10) scale(1.0000,1)" font-size="35.5" font-weight="bold">b</text>
<text transform="translate(358.60,626.90) scale(1.0000,1)" font-size="35.5" font-weight="bold">c</text>
<text transform="translate(790.45,627.00) scale(1.0000,1)" font-size="35.5" font-weight="bold">d</text>
<text transform="translate(357.44,1126.90) scale(1.0000,1)" font-size="35.5" font-weight="bold">e</text>
<text transform="translate(788.70,1124.40) scale(1.0000,1)" font-size="35.5" font-weight="bold">f</text>
<text transform="translate(953.00,414.84) rotate(-90) scale(1.0029,1)" font-size="58.7" font-weight="bold">May 2013</text>
<text transform="translate(953.20,963.07) rotate(-90) scale(0.9819,1)" font-size="58.7" font-weight="bold">Sept. 2013</text>
<text transform="translate(953.00,1451.03) rotate(-90) scale(0.9748,1)" font-size="58.7" font-weight="bold">Aug. 2014</text>
<text transform="translate(27.90,388.14) rotate(-90) scale(0.9513,1)" font-size="33.8">Depth (m)</text>
<text transform="translate(29.10,874.24) rotate(-90) scale(0.9513,1)" font-size="33.8">Depth (m)</text>
<text transform="translate(30.70,1373.24) rotate(-90) scale(0.9513,1)" font-size="33.8">Depth (m)</text>
<text transform="translate(139.32,36.10) scale(0.9613,1)" font-size="34">Bchl</text>
<text transform="translate(202.02,36.10) scale(1.0188,1)" font-size="34" font-style="italic">e</text>
<text transform="translate(237.56,36.10) scale(0.9204,1)" font-size="34">(µg</text>
<text transform="translate(290.86,36.10) scale(0.9470,1)" font-size="34">L</text>
<text transform="translate(308.52,21.40) scale(1.1146,1)" font-size="26">-</text>
<text transform="translate(316.02,21.40) scale(1.0000,1)" font-size="26">1</text>
<text transform="translate(333.15,36.10) scale(0.7547,1)" font-size="34">)</text>
<text transform="translate(106.35,1616.80) scale(0.9566,1)" font-size="33.8">DO; CH</text>
<text transform="translate(219.55,1624.40) scale(0.9799,1)" font-size="24.5">4</text>
<text transform="translate(241.93,1616.80) scale(0.9392,1)" font-size="33.8">(µmol</text>
<text transform="translate(330.06,1616.80) scale(0.9526,1)" font-size="33.8">L</text>
<text transform="translate(347.42,1601.70) scale(1.1276,1)" font-size="25.7">-</text>
<text transform="translate(355.01,1601.70) scale(1.0000,1)" font-size="25.7">1</text>
<text transform="translate(371.52,1616.80) scale(0.8708,1)" font-size="33.8">)</text>
<text transform="translate(541.39,1622.60) scale(0.9655,1)" font-size="33">MOX</text>
<text transform="translate(621.87,1622.60) scale(0.9417,1)" font-size="33">(µmol</text>
<text transform="translate(707.61,1622.60) scale(1.0307,1)" font-size="33">L</text>
<text transform="translate(725.81,1607.70) scale(1.0648,1)" font-size="25.3">-</text>
<text transform="translate(733.33,1607.70) scale(1.0000,1)" font-size="25.3">1</text>
<text transform="translate(755.51,1622.60) scale(1.0034,1)" font-size="33">d</text>
<text transform="translate(773.22,1607.70) scale(1.1454,1)" font-size="25.3">-</text>
<text transform="translate(781.23,1607.70) scale(1.0000,1)" font-size="25.3">1</text>
<text transform="translate(797.73,1622.60) scale(0.8462,1)" font-size="33">)</text>
<text transform="translate(85.40,1767.00) scale(0.9915,1)" font-size="32.8">Spec.</text>
<text transform="translate(176.95,1767.00) scale(0.9820,1)" font-size="32.8">cond.</text>
<text transform="translate(264.94,1767.00) scale(0.9657,1)" font-size="32.8">(µS</text>
<text transform="translate(324.35,1767.00) scale(0.9831,1)" font-size="32.8">cm</text>
<text transform="translate(366.91,1752.40) scale(1.0906,1)" font-size="24.7">-</text>
<text transform="translate(374.50,1752.40) scale(1.0000,1)" font-size="24.7">1</text>
<text transform="translate(390.56,1767.00) scale(0.7018,1)" font-size="32.8">)</text>
<text transform="translate(519.33,1706.20) scale(0.9640,1)" font-size="35">Bchl</text>
<text transform="translate(584.54,1706.20) scale(0.9779,1)" font-size="35" font-style="italic">e</text>
<text transform="translate(526.86,1766.70) scale(0.9577,1)" font-size="35">SPC</text>
<text transform="translate(718.28,1704.60) scale(0.9468,1)" font-size="35">DO</text>
<text transform="translate(883.23,1697.70) scale(0.9423,1)" font-size="34.7">CH</text>
<text transform="translate(930.35,1705.90) scale(0.9415,1)" font-size="25.5">4</text>
<text transform="translate(719.53,1760.80) scale(0.9518,1)" font-size="35">-Mo</text>
<text transform="translate(883.69,1760.50) scale(0.9463,1)" font-size="34.7">+Mo</text>
</svg>
</body></html>
